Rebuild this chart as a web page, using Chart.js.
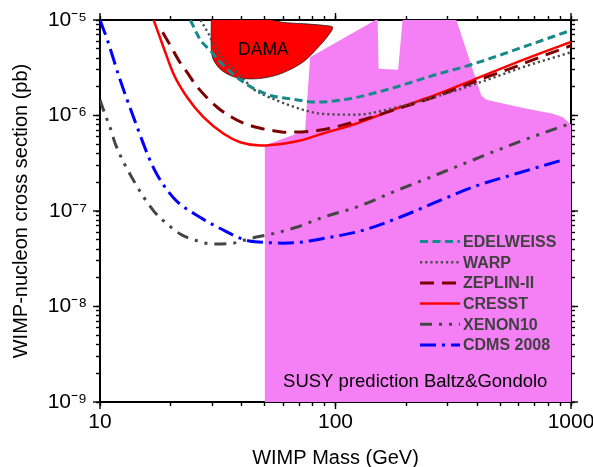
<!DOCTYPE html>
<html><head><meta charset="utf-8">
<script src="https://cdn.jsdelivr.net/npm/chart.js@4/dist/chart.umd.min.js"></script>
<style>html,body{margin:0;padding:0;background:#fff;overflow:hidden}canvas{display:block}</style>
</head><body>
<canvas id="c" width="593" height="467"></canvas>
<script>
// ---------- data ----------
const seriesNames = ['EDELWEISS', 'WARP', 'ZEPLIN-II', 'CRESST', 'XENON10', 'CDMS 2008'];

const edelweissMass  = [24.2, 25.8, 27.1, 29.4, 31.9, 34.6, 38.1, 42.7, 46.3, 52.8, 64.1, 83, 115, 170, 259, 383, 623, 1000];
const edelweissSigma = [1e-5, 7.17e-6, 5.86e-6, 4.8e-6, 3.77e-6, 3.08e-6, 2.52e-6, 2.06e-6, 1.85e-6, 1.62e-6, 1.5e-6, 1.38e-6, 1.5e-6, 1.9e-6, 2.62e-6, 3.45e-6, 5.19e-6, 7.8e-6];

const warpMass  = [26.7, 28.9, 30.3, 31.4, 32.9, 35.1, 38.1, 41.4, 44.7, 50, 56.3, 70.8, 88.5, 123, 170, 235, 326, 452, 623, 1000];
const warpSigma = [1e-5, 7.17e-6, 5.64e-6, 4.8e-6, 4.07e-6, 3.48e-6, 2.84e-6, 2.3e-6, 1.9e-6, 1.63e-6, 1.44e-6, 1.17e-6, 1.04e-6, 1.02e-6, 1.17e-6, 1.44e-6, 1.83e-6, 2.42e-6, 3.2e-6, 4.6e-6];

const zeplinMass  = [18.45, 20.0, 21.6, 23.4, 25.8, 32.1, 36.3, 40.7, 47.1, 53.7, 60.1, 85, 115, 150, 176, 251, 326, 437, 549, 735, 1000];
const zeplinSigma = [7.45e-6, 5.28e-6, 3.77e-6, 2.84e-6, 2.01e-6, 1.17e-6, 9.6e-7, 8.3e-7, 7.43e-7, 6.97e-7, 6.69e-7, 7.0e-7, 8.3e-7, 1.0e-6, 1.14e-6, 1.5e-6, 1.9e-6, 2.52e-6, 3.08e-6, 4.07e-6, 5.4e-6];

const cresstMass  = [16.9, 18.6, 20.5, 23.4, 27.5, 33.5, 39.4, 47.9, 59.9, 70.8, 88.5, 123, 187.6, 259, 383, 588, 1000];
const cresstSigma = [1e-5, 5.19e-6, 2.74e-6, 1.56e-6, 9.6e-7, 6.43e-7, 5.25e-7, 4.85e-7, 5.06e-7, 5.47e-7, 6.48e-7, 8.24e-7, 1.22e-6, 1.6e-6, 2.35e-6, 3.6e-6, 5.9e-6];

const xenonMass  = [10, 10.55, 11.08, 11.6, 13.9, 16.85, 19.3, 22, 25, 30.3, 36.8, 43.4, 54.4, 68.7, 88.5, 123, 182, 277, 409, 623, 1000];
const xenonSigma = [1.45e-6, 1.0e-6, 7.3e-7, 5.1e-7, 2.08e-7, 1.01e-7, 7.3e-8, 5.7e-8, 5.0e-8, 4.5e-8, 4.6e-8, 5.15e-8, 5.8e-8, 6.8e-8, 8.6e-8, 1.1e-7, 1.64e-7, 2.47e-7, 3.65e-7, 5.47e-7, 8.3e-7];

const cdmsMass  = [10, 10.7, 11.4, 12.0, 13.9, 16.85, 20.5, 26.7, 32.4, 42.0, 49.3, 59.9, 70.7, 88.5, 130, 187.6, 259, 383, 588, 908];
const cdmsSigma = [1e-5, 6.36e-6, 3.93e-6, 2.62e-6, 9.5e-7, 2.85e-7, 1.38e-7, 8.55e-8, 6.56e-8, 4.91e-8, 4.71e-8, 4.6e-8, 4.71e-8, 5.15e-8, 6.25e-8, 8.6e-8, 1.2e-7, 1.78e-7, 2.47e-7, 3.38e-7];

// DAMA allowed region (closed outline)
const damaMass  = [29.7, 48.7, 59.2, 74.3, 90.3, 97.3, 93.2, 84.5, 74.3, 65.2, 55.4, 45.6, 37.5, 32.9, 30.4, 29.7, 29.7];
const damaSigma = [1.05e-5, 1.05e-5, 9.48e-6, 9.12e-6, 8.76e-6, 8.4e-6, 6.89e-6, 5.19e-6, 3.77e-6, 3.08e-6, 2.62e-6, 2.42e-6, 2.52e-6, 2.96e-6, 3.77e-6, 4.8e-6, 1.05e-5];

// SUSY prediction (upper boundary of the shaded region)
const susyMass  = [50, 50, 74.3, 78, 148, 151, 152.4, 184.5, 192.6, 326, 416, 437, 605, 837, 923, 1000, 1000];
const susySigma = [1e-9, 4.85e-7, 6.97e-7, 4.08e-6, 1e-5, 1e-5, 3.08e-6, 3.01e-6, 1e-5, 1e-5, 1.62e-6, 1.46e-6, 1.22e-6, 1.04e-6, 9.6e-7, 8.05e-7, 1e-9];

// axes
const xMajorTicks = [10, 100, 1000];
const xTickLabels = ['10', '100', '1000'];
const yMajorTicks = [1e-9, 1e-8, 1e-7, 1e-6, 1e-5];
const yTickLabels = ['10\u207B\u2079', '10\u207B\u2078', '10\u207B\u2077', '10\u207B\u2076', '10\u207B\u2075'];
const minorMultipliers = [2, 3, 4, 5, 6, 7, 8, 9];
const xTitle = 'WIMP Mass (GeV)';
const yTitle = 'WIMP-nucleon cross section (pb)';
const annotations = [
  {text: 'DAMA', x: 49.4, y: 4.85e-6, size: 17.5, align: 'center'},
  {text: 'SUSY prediction Baltz&Gondolo', x: 59.9, y: 1.61e-9, size: 18.5, align: 'left'}
];

// ---------- chart ----------
const FONT = '"Liberation Sans", Arial, Helvetica, sans-serif';
const pts = (xs, ys) => xs.map((x, i) => ({x, y: ys[i]}));

function buildTicks(majors) {
  const t = [];
  majors.forEach((m, i) => {
    t.push({value: m, major: true});
    if (i < majors.length - 1) minorMultipliers.forEach(k => t.push({value: m * k, major: false}));
  });
  return t;
}

const curveStyles = [
  {color: '#17898a', width: 3, dash: [8, 4.5]},
  {color: '#4a4a4a', width: 2.4, dash: [2.2, 3]},
  {color: '#7d0000', width: 3, dash: [14, 8]},
  {color: '#ff0000', width: 2.5, dash: []},
  {color: '#454545', width: 3, dash: [12, 7, 3, 7, 3, 7]},
  {color: '#0000ff', width: 3, dash: [16, 6, 3, 6]}
];
const curveData = [
  pts(edelweissMass, edelweissSigma),
  pts(warpMass, warpSigma),
  pts(zeplinMass, zeplinSigma),
  pts(cresstMass, cresstSigma),
  pts(xenonMass, xenonSigma),
  pts(cdmsMass, cdmsSigma)
];

const datasets = curveData.map((d, i) => ({
  label: seriesNames[i],
  data: d,
  showLine: true,
  fill: false,
  pointRadius: 0,
  borderColor: curveStyles[i].color,
  borderWidth: curveStyles[i].width,
  borderDash: curveStyles[i].dash,
  tension: 0.4,
  cubicInterpolationMode: 'monotone',
  order: 1
}));
datasets.push({
  label: 'DAMA',
  data: pts(damaMass, damaSigma),
  showLine: true,
  fill: 'shape',
  backgroundColor: '#ff0000',
  borderColor: '#222',
  borderWidth: 0.8,
  pointRadius: 0,
  tension: 0.3,
  order: 5
});
datasets.push({
  label: 'SUSY prediction Baltz&Gondolo',
  data: pts(susyMass, susySigma),
  showLine: true,
  fill: 'start',
  backgroundColor: '#f580f5',
  borderColor: 'rgba(0,0,0,0)',
  borderWidth: 0,
  pointRadius: 0,
  tension: 0,
  order: 10
});

function axis(pos, majors, labels, size) {
  const horiz = pos === 'top' || pos === 'bottom';
  const showLabels = pos === 'bottom' || pos === 'left';
  const ax = {
    type: 'logarithmic',
    position: pos,
    min: horiz ? 10 : 1e-9,
    max: horiz ? 1000 : 1e-5,
    z: 1,
    afterBuildTicks: s => { s.ticks = buildTicks(majors); },
    afterFit: s => {
      if (horiz) s.height = size; else s.width = size;
      s.paddingLeft = 0; s.paddingRight = 0; s.paddingTop = 0; s.paddingBottom = 0;
    },
    ticks: {
      display: showLabels,
      autoSkip: false,
      maxRotation: 0, minRotation: 0,
      padding: horiz ? 4 : 9,
      color: '#000',
      font: {family: FONT, size: 21},
      callback: v => { const i = majors.indexOf(v); return i >= 0 ? labels[i] : ''; }
    },
    grid: {drawOnChartArea: false, drawTicks: true, tickLength: 4, tickWidth: 1.4, tickColor: '#000', color: '#000'},
    border: {display: true, color: '#000', width: 2}
  };
  if (pos === 'bottom') ax.title = {display: true, text: xTitle, color: '#000', font: {family: FONT, size: 20}, padding: {top: 0, bottom: -3}};
  if (pos === 'left') ax.title = {display: true, text: yTitle, color: '#000', font: {family: FONT, size: 20}, padding: {top: 9.5, bottom: 0}};
  return ax;
}

const majorTickPlugin = {
  id: 'majorTicks',
  afterDraw(chart) {
    const ctx = chart.ctx, a = chart.chartArea, L = 7;
    ctx.save();
    ctx.strokeStyle = '#000';
    ctx.lineWidth = 1.4;
    Object.values(chart.scales).forEach(s => {
      s.ticks.forEach(t => {
        if (!t.major) return;
        const p = s.getPixelForValue(t.value);
        ctx.beginPath();
        if (s.position === 'bottom') { ctx.moveTo(p, a.bottom); ctx.lineTo(p, a.bottom + L); }
        else if (s.position === 'top') { ctx.moveTo(p, a.top); ctx.lineTo(p, a.top - L); }
        else if (s.position === 'left') { ctx.moveTo(a.left, p); ctx.lineTo(a.left - L, p); }
        else { ctx.moveTo(a.right, p); ctx.lineTo(a.right + L, p); }
        ctx.stroke();
      });
    });
    ctx.restore();
  }
};

const LEG = {x0: 420, x1: 460, tx: 463, y0: 241.5, dy: 20.7};
const legendPlugin = {
  id: 'insideLegend',
  afterDatasetsDraw(chart) {
    const ctx = chart.ctx;
    ctx.save();
    chart.data.datasets.slice(0, seriesNames.length).forEach((ds, i) => {
      const y = LEG.y0 + i * LEG.dy;
      ctx.beginPath();
      ctx.setLineDash(ds.borderDash || []);
      ctx.lineWidth = ds.borderWidth;
      ctx.strokeStyle = ds.borderColor;
      ctx.moveTo(LEG.x0, y);
      ctx.lineTo(LEG.x1, y);
      ctx.stroke();
      ctx.setLineDash([]);
      ctx.fillStyle = '#404040';
      ctx.font = 'bold 16px ' + FONT;
      ctx.textAlign = 'left';
      ctx.textBaseline = 'middle';
      ctx.fillText(ds.label, LEG.tx, y + 1);
    });
    ctx.restore();
  }
};

const textPlugin = {
  id: 'annotText',
  afterDatasetsDraw(chart) {
    const ctx = chart.ctx, xs = chart.scales.x, ys = chart.scales.y;
    ctx.save();
    ctx.fillStyle = '#000';
    ctx.textBaseline = 'middle';
    annotations.forEach(a => {
      ctx.font = a.size + 'px ' + FONT;
      ctx.textAlign = a.align;
      ctx.fillText(a.text, xs.getPixelForValue(a.x), ys.getPixelForValue(a.y));
    });
    ctx.restore();
  }
};

new Chart(document.getElementById('c'), {
  type: 'scatter',
  data: {datasets},
  options: {
    responsive: false,
    animation: false,
    devicePixelRatio: 1,
    layout: {padding: 0},
    plugins: {legend: {display: false}, tooltip: {enabled: false}},
    scales: {
      x: axis('bottom', xMajorTicks, xTickLabels, 65),
      x2: axis('top', xMajorTicks, xTickLabels, 20),
      y: axis('left', yMajorTicks, yTickLabels, 100),
      y2: axis('right', yMajorTicks, yTickLabels, 22)
    }
  },
  plugins: [textPlugin, legendPlugin, majorTickPlugin]
});
</script>
</body></html>
